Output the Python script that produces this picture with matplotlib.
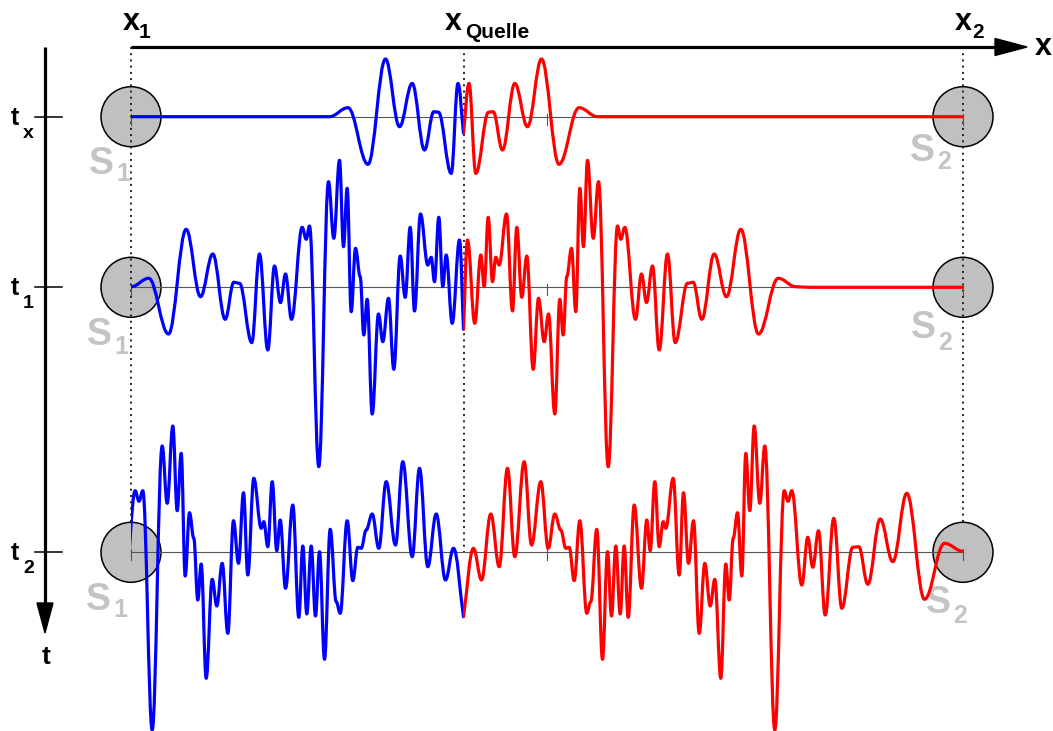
import matplotlib
matplotlib.use("Agg")
import matplotlib.pyplot as plt
from matplotlib.path import Path
from matplotlib.patches import PathPatch, Circle, Polygon, Rectangle

# ---------------- data (diagram units: x along the profile, amplitude up) ----------------
x_names = ["1", "Quelle", "2"]
x_positions = [131, 463.5, 963]          # x1, xQuelle, x2
x_mid_tick = 547

t_names = ["x", "1", "2"]
t_positions = [116.7, 287.3, 552.3]      # tx, t1, t2 (time axis points downward)

# signals as function of distance from the source (same shape on both sides)
tx_dist = [0, 5.5, 12.3, 25, 29.7, 39, 51.3, 64, 78, 95.5, 115.5, 134, 500]
tx_amp = [-16.5, 33.3, -56.7, 4.5, 5, -33.3, 33.3, -10, 57.7, -47.6, 9, 0, 0]

t1_dist = [0, 4, 11.3, 17.3, 20.7, 24.7, 29, 32.3, 35.7, 43, 49, 53.3, 58.3, 63.3,
           69.7, 75, 80.7, 85, 91.3, 96.3, 99.7, 103.3, 108, 112.3, 116.3, 120,
           124, 129.7, 135, 144.7, 154, 157.3, 161.3, 172, 178, 183, 189, 195.7,
           204, 211.7, 224, 229.7, 238.3, 250.7, 263, 277.3, 295, 314.7, 332.3,
           345, 500]
t1_amp = [-42, 47.3, -36, 32.3, 0.6, 70, 5.6, 30, 22.3, 73.3, -23.7, 60, -10, 31.3,
          -82, -11, -54.4, -26.7, -126.7, -12, -47.7, 10.6, 39, -24.4, 99, 40.6,
          127, 49, 105.6, -179.4, 61.3, 48, 60, -32, 13.3, -15.3, 21.3, -62.7,
          33.3, -55.3, 4, 5, -32, 33.3, -9.4, 58, -46.7, 9, 0.6,
          0, 0]

t2_dist = [0, 10, 18, 27.3, 35.7, 44, 51.3, 60.7, 68, 77.3, 84.7, 91.3, 97.3, 102.3,
           105.7, 110.7, 116.3, 123.3, 127.3, 133.3, 139, 144, 148, 152.3, 156.7,
           160.7, 164.7, 170.7, 178, 183.3, 186.7, 191.3, 195.7, 199.7, 202.3,
           209.7, 215.7, 220, 225, 230, 235.7, 241.3, 246.7, 251.3, 257.3, 262.3,
           265.7, 269.7, 274, 278.3, 282.3, 286.3, 290.7, 296.3, 301.3, 311.3,
           320.7, 324.5, 328.3, 338.3, 344.3, 349.3, 355, 361.7, 370.3, 378.3,
           389.3, 395.3, 404.3, 416.7, 429.3, 443.3, 461, 481, 499.5]
t2_amp = [-64.4, 4, -27.7, 38.3, -14.4, 84, -4.4, 90.6, 7.3, 70.6, 4, 38.3, 22.3, 4,
          5, -28.4, 31.6, -61, -49.4, 23, -107, 0.6, -63.7, 6.3, -61.7,
          6.3, -65, 47.3, -36, 32.3, 1.6, 70.6, 5.6, 30.6, 24,
          74, -22.7, 59.6, -11, 31.6, -81, -11, -53.7, -27, -126, -11.7,
          -47.7, 14, 39.6, -23.7, 99, 41.6, 126.3, 49, 106.3, -177.7,
          61.6, 51, 61.6, -32.7, 15, -15, 21.6, -62.7, 34, -56,
          5, 5.6, -32, 33.3, -9.4, 59, -47, 9, 1]

signals = [(tx_dist, tx_amp), (t1_dist, t1_amp), (t2_dist, t2_amp)]

# ---------------- figure ----------------
W, H = 1053, 731
fig = plt.figure(figsize=(W / 100, H / 100), dpi=100)
ax = fig.add_axes([0, 0, 1, 1])
ax.set_xlim(0, W)
ax.set_ylim(H, 0)
ax.axis("off")

BLUE, RED = "#0000ff", "#ff0000"
GREY_TXT = "#c4c4c4"
LAB_FONT = ["Liberation Sans Narrow", "Liberation Sans", "DejaVu Sans"]
S_FONT = ["Liberation Sans", "DejaVu Sans"]

X1, XQ, X2 = x_positions
AX_Y = 47
AX_X = 45


def wave_path(xs, ys, k=0.38):
    verts = [(xs[0], ys[0])]
    codes = [Path.MOVETO]
    for i in range(1, len(xs)):
        x0, y0 = xs[i - 1], ys[i - 1]
        x1, y1 = xs[i], ys[i]
        dx = x1 - x0
        if i == 1:
            c1 = (x0 + k * dx, y0 + k * (y1 - y0))
        else:
            c1 = (x0 + k * dx, y0)
        c2 = (x1 - k * dx, y1)
        verts += [c1, c2, (x1, y1)]
        codes += [Path.CURVE4] * 3
    return Path(verts, codes)


# top x axis with arrow
ax.plot([X1, 1000], [AX_Y, AX_Y], color="k", lw=2.3, solid_capstyle="butt", zorder=5)
ax.add_patch(Polygon([[995, AX_Y - 8.5], [1027, AX_Y], [995, AX_Y + 8.5]],
                     closed=True, color="k", zorder=5))
ax.text(1043, AX_Y, "x", fontsize=22, fontweight="bold", family=LAB_FONT,
        ha="center", va="center")

# left time axis with arrow
ax.plot([AX_X, AX_X], [AX_Y, 605], color="k", lw=2.3, solid_capstyle="butt", zorder=5)
ax.add_patch(Polygon([[AX_X - 8, 603], [AX_X, 633], [AX_X + 8, 603]],
                     closed=True, color="k", zorder=5))
ax.text(AX_X + 1, 664, "t", fontsize=19, fontweight="bold", family=S_FONT,
        ha="center", va="baseline")

# top labels
sub_dx = [16, 21, 17]
for name, xp, dxs in zip(x_names, x_positions, sub_dx):
    xl = xp - 8 if name != "Quelle" else xp - 19
    ax.text(xl, 30, "x", fontsize=22, fontweight="bold", family=LAB_FONT,
            ha="left", va="baseline")
    ax.text(xl + dxs, 38, name, fontsize=15, fontweight="bold", family=LAB_FONT,
            ha="left", va="baseline")

# vertical dotted guide lines
for xp in x_positions:
    y_end = t_positions[2] if xp == XQ else t_positions[2] - 30
    ax.plot([xp, xp], [AX_Y, y_end], color="#222222", lw=1.4,
            linestyle=(0, (1, 2.2)), zorder=2)

# time ticks and labels
for name, tp in zip(t_names, t_positions):
    ax.plot([35, 62], [tp, tp], color="k", lw=1.1, zorder=5)
    ax.text(11, tp + 8, "t", fontsize=18, fontweight="bold", family=S_FONT,
            ha="left", va="baseline")
    ax.text(23, tp + 21, name, fontsize=14, fontweight="bold", family=S_FONT,
            ha="left", va="baseline")

# station circles, baselines and small ticks
for tp in t_positions:
    for xp in (X1, X2):
        ax.add_patch(Circle((xp, tp), 30, facecolor="#c0c0c0", edgecolor="k",
                            lw=1.1, zorder=1))
    ax.plot([X1, X2], [tp, tp], color="#555555", lw=0.8, zorder=2)
    for xt in (X1, x_mid_tick, X2):
        ax.plot([xt, xt], [tp - 3, tp + 8], color="#555555", lw=0.8, zorder=2)

# S labels
s_pos = [
    ((89, 174), (116, 181)), ((910, 161), (937, 169)),
    ((87, 345), (114, 354)), ((911, 338), (938, 350)),
    ((86, 610), (113, 617)), ((926, 613), (953, 623)),
]
k = 0
for tp in t_positions:
    for lab, sub in (("S", "1"), ("S", "2")):
        (sx, sy), (bx, by) = s_pos[k]
        ax.text(sx, sy, lab, fontsize=27, fontweight="bold", family=S_FONT,
                color=GREY_TXT, ha="left", va="baseline", zorder=1.5)
        ax.text(bx, by, sub, fontsize=18, fontweight="bold", family=S_FONT,
                color=GREY_TXT, ha="left", va="baseline", zorder=1.5)
        k += 1

# waveforms: blue towards x1, red towards x2
for tp, (dist, amp) in zip(t_positions, signals):
    ys = [tp - a for a in amp]
    xs_blue = [XQ - d for d in dist]
    xs_red = [XQ + d for d in dist]
    pb = PathPatch(wave_path(xs_blue, ys), fill=False, edgecolor=BLUE, lw=2.3,
                   capstyle="round", joinstyle="round", zorder=3)
    ax.add_patch(pb)
    pb.set_clip_path(Rectangle((X1, 0), XQ - X1 + 0.5, H, transform=ax.transData))
    pr = PathPatch(wave_path(xs_red, ys), fill=False, edgecolor=RED, lw=2.3,
                   capstyle="round", joinstyle="round", zorder=3)
    ax.add_patch(pr)
    pr.set_clip_path(Rectangle((XQ - 0.5, 0), X2 - XQ + 0.5, H, transform=ax.transData))

fig.savefig("out.png", dpi=100)
